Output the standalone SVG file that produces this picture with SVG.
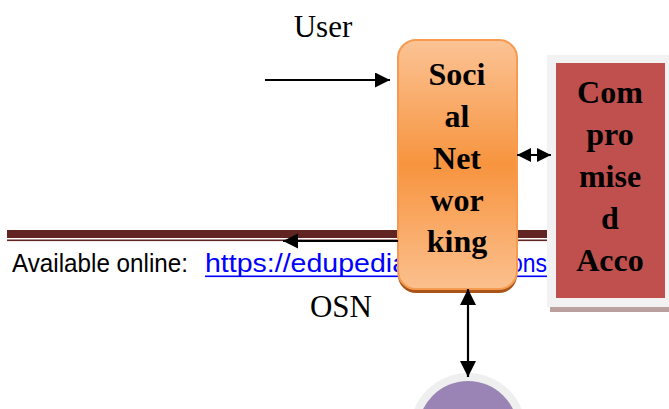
<svg xmlns="http://www.w3.org/2000/svg" width="669" height="409" viewBox="0 0 669 409">
<style>
.lbl{font-family:"Liberation Serif","Times New Roman",serif;font-size:31px;fill:#000;text-anchor:middle}
.bold{font-family:"Liberation Serif","Times New Roman",serif;font-size:32px;font-weight:bold;fill:#000;text-anchor:middle}
.foot{font-family:"Liberation Sans",Arial,sans-serif;font-size:25px;fill:#000}
.link{font-family:"Liberation Sans",Arial,sans-serif;font-size:25px;fill:#0000ff}
.conn{stroke:#000;stroke-width:2.2;fill:none}
</style>
<defs>
<linearGradient id="orange" x1="0" y1="0" x2="0" y2="1">
<stop offset="0" stop-color="#fbc395"/>
<stop offset="0.5" stop-color="#f7943f"/>
<stop offset="1" stop-color="#fbc08e"/>
</linearGradient>
<marker id="ahUser" viewBox="0 0 10 10" refX="10" refY="5" markerUnits="userSpaceOnUse" markerWidth="16" markerHeight="15" orient="auto-start-reverse"><path d="M0,0 L10,5 L0,10 z" fill="#000"/></marker>
<marker id="ahOsn" viewBox="0 0 10 10" refX="10" refY="5" markerUnits="userSpaceOnUse" markerWidth="15" markerHeight="16" orient="auto-start-reverse"><path d="M0,0 L10,5 L0,10 z" fill="#000"/></marker>
<marker id="ahSmall" viewBox="0 0 10 10" refX="10" refY="5" markerUnits="userSpaceOnUse" markerWidth="14" markerHeight="14" orient="auto-start-reverse"><path d="M0,0 L10,5 L0,10 z" fill="#000"/></marker>
<marker id="ahVert" viewBox="0 0 10 10" refX="10" refY="5" markerUnits="userSpaceOnUse" markerWidth="17" markerHeight="16" orient="auto-start-reverse"><path d="M0,0 L10,5 L0,10 z" fill="#000"/></marker>
</defs>
<rect width="669" height="409" fill="#fff"/>

<g id="header">
<rect x="7" y="230" width="540" height="8" fill="#622423"/>
<rect x="7" y="239.5" width="540" height="1.6" fill="#622423"/>
<text class="foot" x="12" y="272" textLength="176" lengthAdjust="spacingAndGlyphs">Available online:</text>
<text class="link" x="205" y="272" textLength="203" lengthAdjust="spacingAndGlyphs">https://edupedia</text>
<text class="link" x="510" y="272" textLength="37" lengthAdjust="spacingAndGlyphs">ons</text>
<rect x="205" y="275.5" width="342" height="1.6" fill="#0000ff"/>
</g>

<g id="user"><text class="lbl" x="323" y="37">User</text></g>
<g id="osn"><text class="lbl" x="341" y="317">OSN</text></g>

<g id="social-networking">
<rect x="398" y="44" width="119" height="249" rx="18" fill="#a9551a"/>
<rect x="398" y="40" width="119" height="249" rx="18" fill="url(#orange)" stroke="#f59a4e" stroke-width="2"/>
<text class="bold" x="457" y="85">Soci</text>
<text class="bold" x="457" y="127">al</text>
<text class="bold" x="457" y="168.5">Net</text>
<text class="bold" x="457" y="210.5">wor</text>
<text class="bold" x="457" y="252">king</text>
</g>

<g id="compromised-account">
<rect x="550" y="306" width="122" height="6" fill="#bba0a0"/>
<rect x="547" y="55" width="125" height="252" fill="#f2f2f2"/>
<rect x="556" y="63" width="109" height="235" fill="#c0504d"/>
<text class="bold" x="610" y="103">Com</text>
<text class="bold" x="610" y="145">pro</text>
<text class="bold" x="610" y="187">mise</text>
<text class="bold" x="610" y="228.5">d</text>
<text class="bold" x="610" y="270.5">Acco</text>
</g>

<g id="circle-node">
<circle cx="468" cy="431" r="58" fill="#efefef"/>
<circle cx="468" cy="431" r="50" fill="#9a84b5"/>
</g>

<g id="connectors">
<line class="conn" x1="265" y1="80" x2="390" y2="80" marker-end="url(#ahUser)"/>
<line class="conn" x1="398" y1="241" x2="283" y2="241" marker-end="url(#ahOsn)"/>
<line class="conn" x1="517" y1="155" x2="551" y2="155" marker-start="url(#ahSmall)" marker-end="url(#ahSmall)"/>
<line class="conn" x1="468" y1="289" x2="468" y2="377" marker-start="url(#ahVert)" marker-end="url(#ahVert)"/>
</g>
</svg>
